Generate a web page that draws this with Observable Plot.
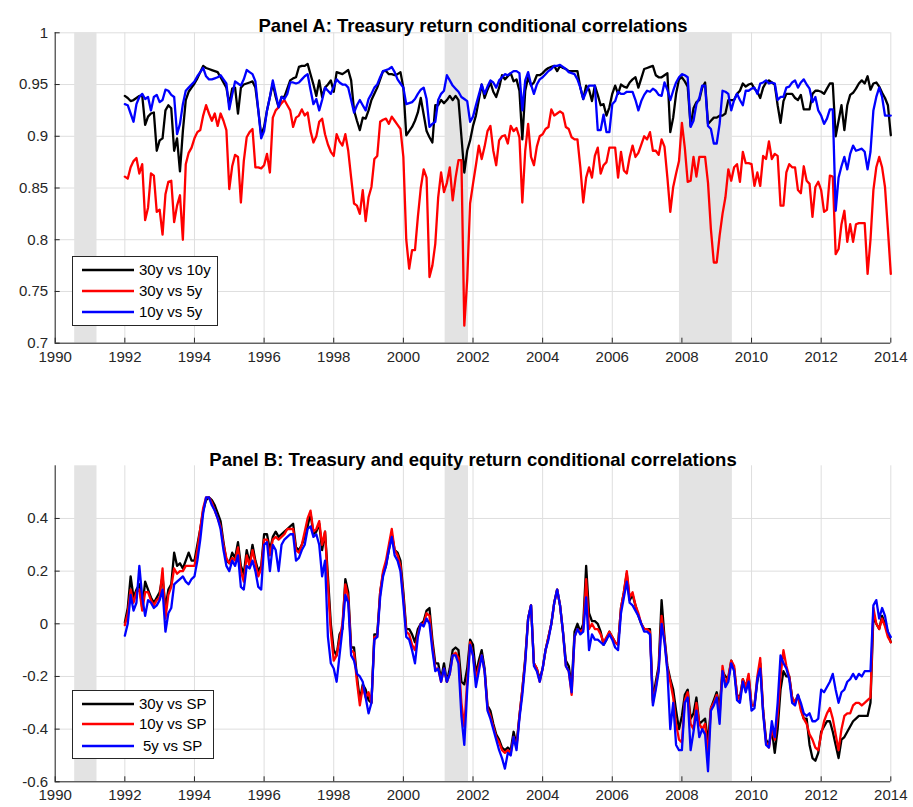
<!DOCTYPE html>
<html><head><meta charset="utf-8">
<script src="https://cdn.jsdelivr.net/npm/d3@7"></script>
<script src="https://cdn.jsdelivr.net/npm/@observablehq/plot@0.6"></script>
<style>
body{margin:0;background:#fff;font-family:"Liberation Sans",Arial,Helvetica,sans-serif;}
#wrap{position:relative;width:913px;height:807px;overflow:hidden;}
#wrap svg{display:block;}
.legend{position:absolute;}
</style></head><body><div id="wrap"></div>
<script>
// ---------- data (monthly, Jan 1992 .. Jan 2014) ----------
const startYear = 1992;
const xTicks = [1990,1992,1994,1996,1998,2000,2002,2004,2006,2008,2010,2012,2014];
const yTicksA = [0.7,0.75,0.8,0.85,0.9,0.95,1];
const yTicksB = [-0.6,-0.4,-0.2,0,0.2,0.4];
const recessions = [{start:1990.56,end:1991.2},{start:2001.2,end:2001.87},{start:2007.93,end:2009.45}];
const titleA = "Panel A: Treasury return conditional correlations";
const titleB = "Panel B: Treasury and equity return conditional correlations";
const namesA = ["30y vs 10y","30y vs 5y","10y vs 5y"];
const namesB = ["30y vs SP","10y vs SP","5y vs SP"];

const a30v10 = [
.939,.937,.934,.935,.937,.939,.939,.911,.919,.922,.923,.886,
.896,.898,.925,.930,.927,.886,.898,.866,.905,.935,.943,.947,
.951,.956,.962,.968,.966,.965,.964,.963,.962,.957,.952,.947,
.931,.946,.947,.922,.947,.950,.951,.952,.953,.947,.925,.901,
.909,.925,.938,.951,.938,.928,.938,.938,.946,.954,.956,.957,
.967,.968,.968,.970,.960,.950,.939,.954,.938,.947,.950,.954,
.943,.962,.961,.960,.962,.964,.954,.925,.915,.906,.918,.917,
.925,.935,.941,.947,.955,.963,.963,.960,.960,.959,.960,.962,
.947,.901,.905,.909,.915,.923,.937,.921,.905,.899,.894,.930,
.930,.935,.932,.935,.939,.935,.939,.935,.900,.865,.886,.896,
.910,.920,.935,.950,.937,.945,.952,.943,.938,.947,.959,.955,
.958,.961,.953,.955,.944,.897,.944,.957,.949,.952,.959,.959,
.961,.964,.966,.967,.968,.963,.968,.966,.965,.963,.963,.963,
.963,.947,.936,.949,.945,.934,.949,.940,.930,.931,.920,.928,
.941,.949,.941,.950,.948,.947,.952,.955,.957,.947,.956,.965,
.966,.967,.968,.959,.957,.957,.959,.961,.904,.918,.941,.955,
.957,.953,.948,.910,.927,.933,.935,.947,.952,.912,.915,.918,
.918,.920,.920,.922,.935,.935,.935,.941,.944,.951,.948,.950,
.951,.946,.943,.937,.947,.952,.954,.952,.950,.930,.913,.934,
.941,.941,.941,.937,.935,.940,.926,.926,.926,.941,.944,.944,
.943,.941,.946,.951,.951,.900,.915,.930,.906,.930,.940,.942,
.946,.951,.954,.951,.958,.945,.951,.952,.948,.942,.937,.930,
.901];

const a30v5 = [
.861,.859,.870,.876,.879,.864,.873,.819,.831,.864,.862,.827,
.829,.805,.844,.856,.857,.817,.833,.843,.800,.873,.884,.889,
.898,.904,.906,.920,.930,.922,.915,.922,.910,.922,.915,.906,
.849,.871,.882,.880,.836,.876,.899,.904,.907,.870,.870,.869,
.872,.883,.865,.918,.925,.928,.932,.935,.930,.925,.909,.918,
.920,.926,.920,.923,.905,.894,.900,.914,.917,.902,.892,.885,
.881,.902,.895,.891,.902,.886,.860,.835,.833,.825,.848,.818,
.841,.851,.878,.881,.914,.916,.917,.912,.919,.915,.911,.907,
.880,.800,.772,.790,.790,.822,.850,.868,.860,.764,.775,.796,
.841,.865,.846,.855,.870,.838,.860,.877,.877,.717,.761,.835,
.854,.872,.891,.878,.890,.905,.910,.886,.872,.896,.900,.901,
.893,.910,.905,.908,.899,.836,.886,.912,.880,.872,.890,.900,
.902,.907,.909,.926,.920,.922,.924,.922,.909,.907,.899,.897,
.897,.870,.836,.860,.870,.860,.881,.889,.864,.872,.875,.889,
.889,.889,.860,.885,.867,.864,.880,.891,.880,.884,.892,.900,
.897,.904,.886,.886,.882,.897,.890,.860,.827,.851,.864,.876,
.913,.889,.856,.857,.880,.861,.880,.880,.880,.855,.810,.778,
.778,.804,.825,.841,.868,.857,.870,.873,.856,.885,.874,.874,
.873,.852,.865,.852,.881,.878,.895,.878,.883,.881,.833,.833,
.865,.873,.870,.870,.848,.845,.871,.857,.854,.822,.851,.856,
.848,.827,.829,.862,.861,.786,.791,.815,.828,.798,.815,.798,
.815,.816,.816,.816,.767,.800,.848,.870,.880,.870,.851,.810,
.767];

const a10v5 = [
.931,.930,.922,.914,.931,.938,.941,.936,.938,.925,.938,.940,
.933,.935,.945,.944,.940,.938,.902,.912,.931,.944,.947,.950,
.953,.958,.962,.966,.958,.955,.955,.956,.957,.959,.955,.951,
.926,.940,.953,.951,.949,.955,.964,.962,.960,.953,.925,.898,
.905,.925,.938,.954,.941,.928,.938,.936,.941,.952,.952,.951,
.952,.955,.958,.960,.945,.931,.936,.925,.935,.947,.944,.941,
.948,.955,.952,.950,.950,.947,.935,.923,.930,.935,.930,.925,
.936,.941,.947,.950,.957,.963,.964,.965,.967,.962,.955,.951,
.947,.931,.932,.933,.936,.941,.945,.947,.936,.909,.912,.914,
.935,.941,.944,.959,.954,.949,.946,.943,.938,.936,.934,.914,
.919,.930,.940,.950,.941,.948,.954,.952,.947,.954,.957,.960,
.959,.961,.963,.963,.961,.925,.954,.962,.950,.941,.950,.955,
.957,.960,.963,.965,.968,.968,.969,.967,.965,.962,.961,.960,
.955,.947,.936,.943,.949,.949,.949,.906,.906,.921,.904,.904,
.931,.934,.943,.941,.941,.943,.943,.943,.935,.925,.934,.940,
.944,.943,.946,.944,.940,.939,.952,.945,.935,.944,.952,.957,
.960,.959,.957,.909,.915,.931,.937,.949,.949,.910,.907,.893,
.893,.912,.944,.943,.941,.925,.935,.941,.935,.930,.944,.944,
.946,.947,.941,.951,.952,.954,.951,.952,.951,.935,.938,.938,
.947,.948,.952,.954,.947,.952,.955,.950,.946,.933,.938,.925,
.920,.912,.917,.926,.926,.828,.860,.871,.880,.868,.883,.891,
.886,.887,.888,.885,.868,.885,.925,.938,.947,.938,.920,.920,
.920];

const b30 = [
.005,.06,.18,.10,.13,.15,.06,.16,.13,.10,.08,.10,
.12,.18,.06,.13,.15,.27,.22,.23,.21,.24,.27,.24,
.24,.30,.36,.43,.47,.48,.47,.45,.42,.39,.31,.24,
.23,.27,.25,.31,.22,.19,.28,.23,.30,.24,.20,.22,
.34,.34,.28,.33,.35,.33,.34,.35,.36,.37,.38,.29,
.28,.30,.33,.37,.42,.34,.35,.38,.28,.35,.18,.0,
-.10,-.12,-.04,-.02,.17,.12,-.09,-.09,-.20,-.29,-.23,-.25,
-.29,-.30,-.04,-.04,.12,.19,.22,.28,.34,.28,.27,.24,
.12,-.02,-.02,-.04,-.07,-.02,.0,.01,.05,.06,-.06,-.15,
-.15,-.21,-.15,-.22,-.17,-.10,-.09,-.10,-.22,-.23,-.17,-.06,
-.08,-.19,-.14,-.10,-.17,-.31,-.33,-.38,-.42,-.44,-.47,-.48,
-.47,-.48,-.41,-.46,-.35,-.25,-.13,.02,.07,-.15,-.17,-.21,
-.17,-.10,-.05,.0,.08,.13,.07,-.03,-.14,-.16,-.24,-.03,
.0,-.03,.0,.22,.04,.01,.01,.0,-.03,-.08,-.06,-.03,
-.05,-.07,-.08,.06,.12,.19,.09,.11,.07,.03,.0,-.02,
-.02,-.02,-.29,-.22,-.16,.09,-.05,-.16,-.21,-.25,-.33,-.40,
-.35,-.27,-.25,-.36,-.34,-.28,-.38,-.37,-.36,-.45,-.32,-.29,
-.26,-.32,-.18,-.20,-.21,-.14,-.17,-.27,-.28,-.21,-.24,-.20,
-.31,-.31,-.22,-.15,-.33,-.44,-.46,-.40,-.49,-.40,-.25,-.18,
-.20,-.20,-.28,-.30,-.27,-.32,-.36,-.36,-.46,-.51,-.52,-.49,
-.41,-.39,-.37,-.37,-.41,-.46,-.51,-.44,-.43,-.41,-.39,-.37,
-.36,-.35,-.35,-.35,-.35,-.30,.03,.0,-.02,.03,.0,-.03,
-.07];

const b10 = [
-.005,.04,.13,.08,.12,.13,.05,.12,.12,.09,.07,.09,
.10,.21,.02,.11,.14,.21,.19,.20,.20,.22,.22,.22,
.22,.28,.36,.44,.48,.48,.46,.43,.40,.37,.30,.25,
.23,.25,.24,.29,.20,.16,.26,.22,.28,.23,.18,.21,
.32,.32,.26,.32,.33,.32,.33,.34,.36,.36,.36,.28,
.27,.30,.35,.40,.43,.35,.36,.39,.30,.35,.15,-.03,
-.14,-.12,-.06,.0,.15,.10,-.10,-.11,-.22,-.31,-.24,-.28,
-.26,-.30,-.05,-.05,.12,.20,.24,.30,.36,.28,.26,.22,
.10,-.03,-.04,-.08,-.10,-.04,.0,.0,.04,.03,-.08,-.17,
-.17,-.22,-.17,-.22,-.19,-.12,-.11,-.13,-.30,-.39,-.22,-.07,
-.12,-.21,-.16,-.12,-.18,-.32,-.35,-.39,-.43,-.45,-.48,-.49,
-.48,-.49,-.43,-.47,-.35,-.25,-.14,.02,.07,-.15,-.17,-.22,
-.17,-.10,-.05,.0,.08,.13,.07,-.03,-.16,-.18,-.27,-.05,
-.02,-.03,-.02,.17,-.02,.0,-.02,-.02,-.04,-.07,-.05,-.03,
-.05,-.07,-.08,.06,.12,.20,.10,.12,.07,.04,.0,-.02,
-.02,-.03,-.30,-.24,-.17,.03,-.06,-.17,-.22,-.28,-.38,-.44,
-.45,-.29,-.26,-.38,-.40,-.30,-.38,-.40,-.38,-.50,-.32,-.30,
-.27,-.35,-.16,-.23,-.20,-.14,-.16,-.27,-.29,-.21,-.24,-.19,
-.31,-.31,-.20,-.13,-.33,-.45,-.47,-.40,-.44,-.35,-.20,-.10,
-.16,-.20,-.28,-.30,-.27,-.33,-.36,-.38,-.42,-.44,-.47,-.48,
-.42,-.37,-.34,-.32,-.36,-.42,-.48,-.40,-.35,-.34,-.34,-.31,
-.30,-.30,-.31,-.30,-.29,-.28,.06,.0,-.02,.02,-.01,-.05,
-.07];

const b5 = [
-.045,.0,.11,.05,.08,.22,.10,.03,.09,.08,.06,.07,
.09,.13,-.03,.04,.06,.15,.16,.17,.18,.16,.15,.17,
.18,.24,.32,.42,.48,.48,.45,.43,.40,.36,.28,.22,
.20,.24,.22,.26,.14,.13,.22,.21,.24,.20,.14,.13,
.30,.31,.20,.30,.28,.20,.30,.32,.33,.34,.34,.24,
.25,.28,.30,.36,.37,.33,.34,.30,.18,.24,-.05,-.15,
-.17,-.22,-.12,-.02,.11,.08,-.12,-.14,-.19,-.20,-.22,-.28,
-.34,-.30,-.06,-.05,.10,.18,.22,.28,.33,.26,.24,.20,
.08,-.05,-.06,-.10,-.15,-.05,.0,-.01,.02,.0,-.10,-.18,
-.17,-.22,-.17,-.22,-.19,-.12,-.12,-.15,-.35,-.46,-.25,-.08,
-.12,-.24,-.18,-.12,-.18,-.33,-.36,-.40,-.44,-.48,-.51,-.55,
-.49,-.50,-.43,-.48,-.36,-.27,-.15,.02,.07,-.16,-.18,-.22,
-.17,-.10,-.06,.0,.08,.13,.07,-.03,-.16,-.18,-.26,-.05,
-.02,-.04,-.03,.10,-.10,-.04,-.06,-.06,-.07,-.08,-.06,-.04,
-.06,-.09,-.10,.04,.10,.16,.08,.07,.05,.03,.0,-.03,
-.03,-.04,-.31,-.25,-.18,.0,-.07,-.18,-.40,-.30,-.46,-.48,
-.48,-.30,-.28,-.48,-.41,-.33,-.43,-.40,-.42,-.56,-.33,-.31,
-.28,-.38,-.18,-.24,-.22,-.15,-.18,-.29,-.30,-.22,-.26,-.22,
-.33,-.32,-.21,-.17,-.34,-.46,-.47,-.37,-.43,-.30,-.12,-.15,
-.17,-.21,-.30,-.31,-.27,-.30,-.34,-.35,-.34,-.37,-.37,-.36,
-.25,-.26,-.24,-.22,-.19,-.25,-.30,-.26,-.25,-.22,-.21,-.19,
-.21,-.19,-.20,-.18,-.18,-.18,.07,.09,.02,.06,.03,-.03,
-.05];

// ---------- styling ----------
const FONT = '"Liberation Sans", Arial, Helvetica, sans-serif';
const GRID = "#dedede", BAND = "#e3e3e3", AX = "#262626";
const COLORS = ["#000000", "#ff0000", "#0000ff"];
const xDomain = [1990, 2014];
const timeOf = (d, i) => startYear + i / 12;

function panel({yDomain, yTicks, series, title, height, mt, mb, titleDy}) {
  return Plot.plot({
    width: 913, height, marginTop: mt, marginBottom: mb, marginLeft: 54.7, marginRight: 22.7,
    style: {fontFamily: FONT, fontSize: "15px", color: AX, background: "#fff", overflow: "visible"},
    x: {domain: xDomain},
    y: {domain: yDomain},
    marks: [
      Plot.ruleX(xTicks, {x: d => d, stroke: GRID, strokeWidth: 1}),
      Plot.ruleY(yTicks, {y: d => d, stroke: GRID, strokeWidth: 1}),
      Plot.rect(recessions, {x1: "start", x2: "end", y1: () => yDomain[0], y2: () => yDomain[1], fill: BAND}),
      ...series.map((s, k) => Plot.line(s, {x: timeOf, y: d => d, stroke: COLORS[k], strokeWidth: 2.3})),
      Plot.ruleX([xDomain[0]], {x: d => d, stroke: AX, strokeWidth: 1}),
      Plot.ruleY([yDomain[0]], {y: d => d, stroke: AX, strokeWidth: 1}),
      Plot.axisX({ticks: xTicks, tickFormat: d => String(d), tickSize: -5, tickPadding: 13, stroke: AX, fill: AX, label: null}),
      Plot.axisY({ticks: yTicks, tickFormat: d => String(d), tickSize: -5, tickPadding: 12, stroke: AX, fill: AX, label: null}),
      Plot.text([title], {frameAnchor: "top", dy: titleDy, fontWeight: "bold", fontSize: 18.5, fill: "#000"})
    ]
  });
}

const wrap = document.getElementById("wrap");
wrap.appendChild(panel({yDomain: [0.7, 1], yTicks: yTicksA, series: [a30v10, a30v5, a10v5], title: titleA, height: 404, mt: 32.3, mb: 61.3, titleDy: -14}));
wrap.appendChild(panel({yDomain: [-0.6, 0.6], yTicks: yTicksB, series: [b30, b10, b5], title: titleB, height: 403, mt: 61.3, mb: 25.7, titleDy: -13}));

function legend(names, left, top, w, h, rows, textX) {
  const svg = d3.create("svg").attr("class", "legend").attr("width", w).attr("height", h)
    .style("left", left + "px").style("top", top + "px");
  svg.append("rect").attr("x", 0.5).attr("y", 0.5).attr("width", w - 1).attr("height", h - 1)
    .attr("fill", "#fff").attr("stroke", AX);
  names.forEach((n, k) => {
    svg.append("line").attr("x1", 10).attr("x2", 62).attr("y1", rows[k]).attr("y2", rows[k])
      .attr("stroke", COLORS[k]).attr("stroke-width", 2.3);
    svg.append("text").attr("x", textX[k]).attr("y", rows[k]).attr("dy", "0.35em")
      .attr("font-family", FONT).attr("font-size", 15).attr("fill", "#000").text(n);
  });
  wrap.appendChild(svg.node());
}
legend(namesA, 72, 256, 146, 70, [14, 35, 56], [67, 67, 67]);
legend(namesB, 72, 690, 142, 69, [14, 34, 56], [67, 67, 71]);
</script></body></html>
